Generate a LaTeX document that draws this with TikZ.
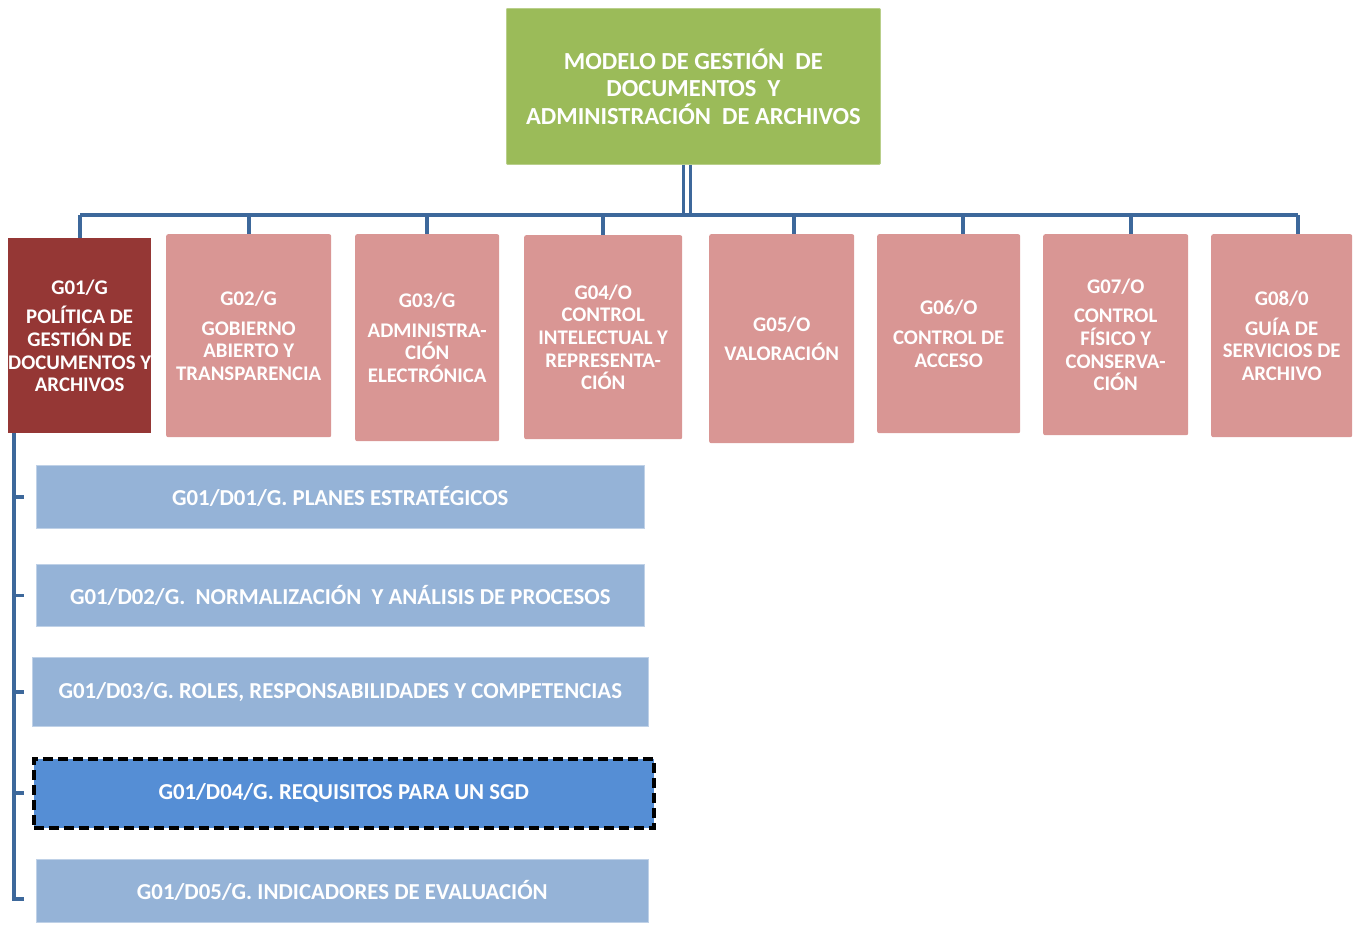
\documentclass[tikz,border=0pt]{standalone}
\usepackage{fontspec}
\setmainfont{Carlito}
\definecolor{modgreen}{HTML}{9BBB59}
\definecolor{darkred}{HTML}{953735}
\definecolor{rosebox}{HTML}{D99694}
\definecolor{paleblue}{HTML}{95B3D7}
\definecolor{midblue}{HTML}{558ED5}
\definecolor{linkblue}{HTML}{3D689B}
\begin{document}
\begin{tikzpicture}[x=1pt,y=-1pt,
  box/.style={anchor=north west,inner sep=0pt,align=center,text=white,font=\bfseries\fontsize{20.8}{22.7}\selectfont},
  gbox/.style={box,fill=rosebox,rounded corners=2pt},
  dbox/.style={box,fill=paleblue,draw=paleblue!60!white,line width=0.6pt,font=\bfseries\fontsize{22.8}{24}\selectfont},
  conn/.style={draw=linkblue,line width=3.6pt}]
\useasboundingbox (0,0) rectangle (1360,924);
% top of the tree
\node[box,fill=modgreen,draw=modgreen!70!white,line width=0.8pt,rounded corners=1pt,
  minimum width=374pt,minimum height=156pt,font=\bfseries\fontsize{24.5}{27.5}\selectfont]
  (model) at (506,8) {MODELO DE GESTIÓN\ \ DE\\DOCUMENTOS\ \ Y\\ADMINISTRACIÓN\ \ DE ARCHIVOS};
% first level
\node[box,fill=darkred,minimum width=142pt,minimum height=195pt] (g01) at (8,238)
  {G01/G\\[7pt]POLÍTICA DE\\GESTIÓN DE\\DOCUMENTOS Y\\ARCHIVOS};
\node[gbox,minimum width=165pt,minimum height=203pt] (g02) at (166,234)
  {G02/G\\[7pt]GOBIERNO\\ABIERTO Y\\TRANSPARENCIA};
\node[gbox,minimum width=144pt,minimum height=207pt] (g03) at (355,234)
  {G03/G\\[7pt]ADMINISTRA-\\CIÓN\\ELECTRÓNICA};
\node[gbox,minimum width=158pt,minimum height=204pt] (g04) at (524,235)
  {G04/O\\CONTROL\\INTELECTUAL Y\\REPRESENTA-\\CIÓN};
\node[gbox,minimum width=145pt,minimum height=209pt] (g05) at (709,234)
  {G05/O\\[7pt]VALORACIÓN};
\node[gbox,minimum width=143pt,minimum height=199pt] (g06) at (877,234)
  {G06/O\\[7pt]CONTROL DE\\ACCESO};
\node[gbox,minimum width=145pt,minimum height=201pt] (g07) at (1043,234)
  {G07/O\\[7pt]CONTROL\\FÍSICO Y\\CONSERVA-\\CIÓN};
\node[gbox,minimum width=141pt,minimum height=203pt] (g08) at (1211,234)
  {G08/0\\[7pt]GUÍA DE\\SERVICIOS DE\\ARCHIVO};
% documents of G01
\node[dbox,minimum width=608pt,minimum height=63pt] (d01) at (36,465) {G01/D01/G. PLANES ESTRATÉGICOS};
\node[dbox,minimum width=608pt,minimum height=62pt] (d02) at (36,564) {G01/D02/G.\ \ NORMALIZACIÓN\ \ Y ANÁLISIS DE PROCESOS};
\node[dbox,minimum width=616pt,minimum height=69pt] (d03) at (32,657) {G01/D03/G. ROLES, RESPONSABILIDADES Y COMPETENCIAS};
\node[dbox,fill=midblue,draw=black,line width=3.5pt,dash pattern=on 10pt off 5pt,
  minimum width=620pt,minimum height=69pt] (d04) at (32,757) {G01/D04/G. REQUISITOS PARA UN SGD};
\node[dbox,minimum width=612pt,minimum height=63pt] (d05) at (36,859) {G01/D05/G. INDICADORES DE EVALUACIÓN};
% connectors
\coordinate (busL) at (80,215);
\coordinate (busR) at (1298,215);
\draw[conn] (busL) -- (busR);
\draw[conn] ([xshift=-10pt]model.south) -- ([xshift=-10pt]model.south |- busL);
\draw[conn] ([xshift=-3pt]model.south) -- ([xshift=-3pt]model.south |- busL);
\draw[conn] (busL) -- (g01.north -| busL);
\draw[conn] (g02.north |- busL) -- (g02.north);
\draw[conn] (g03.north |- busL) -- (g03.north);
\draw[conn] (g04.north |- busL) -- (g04.north);
\draw[conn] ([xshift=12pt]g05.north |- busL) -- ([xshift=12pt]g05.north);
\draw[conn] ([xshift=14pt]g06.north |- busL) -- ([xshift=14pt]g06.north);
\draw[conn] ([xshift=15pt]g07.north |- busL) -- ([xshift=15pt]g07.north);
\draw[conn] (busR) -- (g08.north -| busR);
\coordinate (spine) at (14,433);
\draw[conn] (spine) |- ([xshift=-12pt,yshift=-8pt]d05.west);
\foreach \d/\s in {d01/12,d02/12,d03/8,d04/8}
  \draw[conn] (spine |- \d.west) -- ([xshift=-\s pt]\d.west);
\end{tikzpicture}
\end{document}
